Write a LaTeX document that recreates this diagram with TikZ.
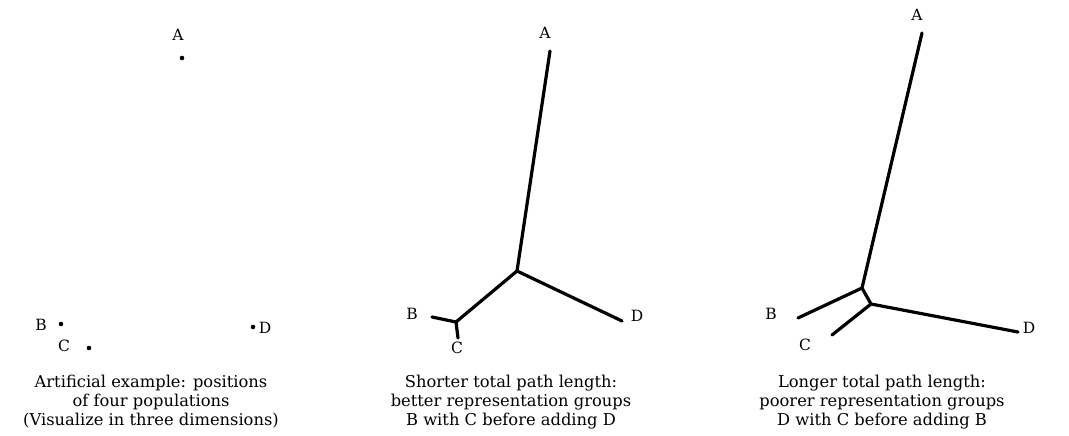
\documentclass[tikz,border=0pt]{standalone}
\usepackage{fontspec}
\setmainfont{DejaVu Serif}
\begin{document}
\begin{tikzpicture}[x=1pt,y=-1pt,
  lab/.style={inner sep=0pt,font=\fontsize{15.5}{16}\selectfont},
  captext/.style={align=center,inner sep=0pt,font=\fontsize{16.3}{19}\selectfont},
  dotpt/.style={circle,fill=black,inner sep=0pt,minimum size=4.6pt},
  br/.style={line width=3.2pt,line cap=round,line join=round}]
\useasboundingbox (0,0) rectangle (1069,436);
% panel 1
\node[lab] (la1) at (178,35) {A};
\node[dotpt] (pa1) at (182,58) {};
\node[lab] (lb1) at (41,325) {B};
\node[dotpt] (pb1) at (61,324) {};
\node[lab] (lc1) at (64,346) {C};
\node[dotpt] (pc1) at (89,348) {};
\node[dotpt] (pd1) at (253,327) {};
\node[lab] (ld1) at (265,328) {D};
\node[captext] (cap1) at (151,402) {Artificial example: positions\\of four populations\\(Visualize in three dimensions)};
% panel 2
\node[lab] (la2) at (545,33) {A};
\coordinate (a2) at (550,51);
\coordinate (j2) at (517,271);
\coordinate (k2) at (456,322);
\coordinate (b2) at (432,317);
\coordinate (c2) at (458,338);
\coordinate (d2) at (622,321);
\node[lab] (lb2) at (412,314) {B};
\node[lab] (lc2) at (457,348) {C};
\node[lab] (ld2) at (637,316) {D};
\draw[br] (a2) -- (j2) -- (d2);
\draw[br] (j2) -- (k2) -- (b2);
\draw[br] (k2) -- (c2);
\node[captext] (cap2) at (511,402) {Shorter total path length:\\better representation groups\\B with C before adding D};
% panel 3
\node[lab] (la3) at (917,15) {A};
\coordinate (a3) at (922,33);
\coordinate (j3) at (862,288);
\coordinate (k3) at (871,304);
\coordinate (b3) at (798,318);
\coordinate (c3) at (832,335);
\coordinate (d3) at (1018,332);
\node[lab] (lb3) at (771,314) {B};
\node[lab] (lc3) at (805,345) {C};
\node[lab] (ld3) at (1029,328) {D};
\draw[br] (a3) -- (j3) -- (b3);
\draw[br] (j3) -- (k3) -- (d3);
\draw[br] (k3) -- (c3);
\node[captext] (cap3) at (882,402) {Longer total path length:\\poorer representation groups\\D with C before adding B};
\end{tikzpicture}
\end{document}
